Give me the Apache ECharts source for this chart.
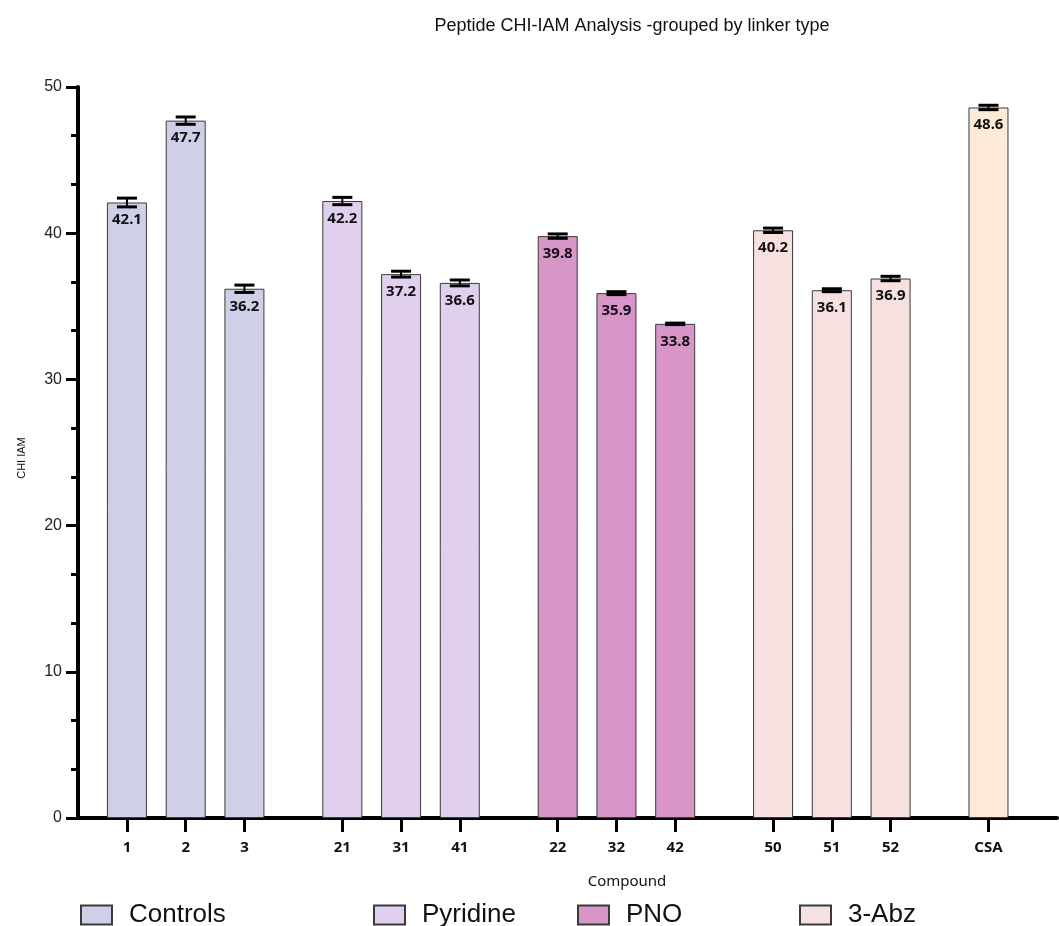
<!DOCTYPE html>
<html>
<head>
<meta charset="utf-8">
<script src="https://cdn.jsdelivr.net/npm/echarts@6/dist/echarts.min.js"></script>
<style>html,body{margin:0;padding:0;background:#fff;}#c{width:1059px;height:926px;}</style>
</head>
<body>
<div id="c"></div>
<script>
// ---- data ----
const compounds = ['1','2','3','21','31','41','22','32','42','50','51','52','CSA'];
const chiIam    = [42.1, 47.7, 36.2, 42.2, 37.2, 36.6, 39.8, 35.9, 33.8, 40.2, 36.1, 36.9, 48.6];
const errSem    = [0.30, 0.25, 0.25, 0.25, 0.20, 0.20, 0.15, 0.10, 0.05, 0.15, 0.10, 0.15, 0.15];
const linker    = ['Controls','Controls','Controls','Pyridine','Pyridine','Pyridine','PNO','PNO','PNO','3-Abz','3-Abz','3-Abz','CSA'];
const groups    = ['Controls','Pyridine','PNO','3-Abz','CSA'];
const legendGroups = ['Controls','Pyridine','PNO','3-Abz'];
const yTicks    = [0, 10, 20, 30, 40, 50];

// ---- styling ----
const colors = {'Controls':'#cfd0e8','Pyridine':'#e1cfee','PNO':'#d895c8','3-Abz':'#f7e0e0','CSA':'#fdebd8'};
const legendLeft = {'Controls':80,'Pyridine':373,'PNO':577,'3-Abz':799};

// category slot layout (gaps between linker groups)
const nSlots = 50;
const slotOf = [];
let s = 2;
for (let i = 0; i < compounds.length; i++) {
  if (i > 0) s += (linker[i] === linker[i-1]) ? 3 : 5;
  slotOf.push(s);
}
const slotLabels = new Array(nSlots).fill('');
slotOf.forEach((sl, i) => { slotLabels[sl] = compounds[i]; });
const tickSet = new Set(slotOf);

const barSeries = groups.map(g => {
  const arr = new Array(nSlots).fill(null);
  compounds.forEach((c, i) => { if (linker[i] === g) arr[slotOf[i]] = chiIam[i]; });
  return {
    name: g, type: 'bar', data: arr, barWidth: 40, barGap: '-100%',
    itemStyle: {color: colors[g], borderColor: '#3a3a3a', borderWidth: 1},
    label: {show: true, position: 'insideTop', distance: 10,
      formatter: p => p.value == null ? '' : Number(p.value).toFixed(1),
      fontFamily: 'Noto Sans', fontWeight: 'bold', fontSize: 15, color: '#111'},
    emphasis: {disabled: true}, z: 2
  };
});

const errData = compounds.map((c, i) => [slotOf[i], chiIam[i], errSem[i]]);
const errSeries = {
  type: 'custom', name: 'err', z: 5, silent: true,
  data: errData,
  encode: {x: 0, y: 1},
  renderItem: function(params, api) {
    const x = api.value(0), v = api.value(1), e = api.value(2);
    const hi = api.coord([x, v + e]);
    const lo = api.coord([x, v - e]);
    const hw = 10;
    const st = {stroke: '#000', lineWidth: 3};
    return {type: 'group', children: [
      {type: 'line', shape: {x1: hi[0], y1: hi[1], x2: lo[0], y2: lo[1]}, style: {stroke: '#000', lineWidth: 2}},
      {type: 'line', shape: {x1: hi[0]-hw, y1: hi[1], x2: hi[0]+hw, y2: hi[1]}, style: st},
      {type: 'line', shape: {x1: lo[0]-hw, y1: lo[1], x2: lo[0]+hw, y2: lo[1]}, style: st}
    ]};
  }
};

const legends = legendGroups.map(g => ({
  data: [g], left: legendLeft[g], top: 902, padding: 0,
  itemWidth: 31, itemHeight: 19, icon: 'rect', selectedMode: false,
  textStyle: {fontFamily: 'Liberation Sans', fontSize: 26, color: '#111', padding: [0,0,0,12]}
}));

const chart = echarts.init(document.getElementById('c'), null, {renderer: 'canvas'});
chart.setOption({
  animation: false,
  backgroundColor: '#fff',
  title: {text: 'Peptide CHI-IAM Analysis -grouped by linker type', left: 627, top: 12, textAlign: 'center',
    textStyle: {fontFamily: 'Liberation Sans', fontWeight: 'normal', fontSize: 18, color: '#111'}},
  legend: legends,
  grid: {left: 78, right: 2, top: 87, bottom: 108, containLabel: false},
  xAxis: {
    type: 'category', data: slotLabels, boundaryGap: true,
    axisLine: {lineStyle: {color: '#000', width: 4}},
    axisTick: {show: true, length: 14, alignWithLabel: true, lineStyle: {color: '#000', width: 3},
      interval: (idx) => tickSet.has(idx)},
    axisLabel: {interval: (idx) => tickSet.has(idx), margin: 22,
      fontFamily: 'Noto Sans', fontWeight: 'bold', fontSize: 15, color: '#111'},
    splitLine: {show: false}
  },
  yAxis: {
    type: 'value', min: yTicks[0], max: yTicks[yTicks.length-1], interval: 10,
    axisLine: {show: true, lineStyle: {color: '#000', width: 4}},
    axisTick: {show: true, length: 12, lineStyle: {color: '#000', width: 3}},
    minorTick: {show: true, splitNumber: 3, length: 7, lineStyle: {color: '#000', width: 3}},
    axisLabel: {margin: 16, fontFamily: 'Liberation Sans', fontSize: 16, color: '#222'},
    splitLine: {show: false}
  },
  graphic: [
    {type: 'text', x: 22, y: 458, rotation: Math.PI/2,
      style: {text: 'CHI IAM', fontFamily: 'Liberation Sans', fontSize: 11, fill: '#111', textAlign: 'center', textVerticalAlign: 'middle'}},
    {type: 'text', x: 627, y: 882,
      style: {text: 'Compound', fontFamily: 'Noto Sans', fontSize: 15, fill: '#111', textAlign: 'center', textVerticalAlign: 'middle'}}
  ],
  series: barSeries.concat([errSeries])
});
</script>
</body>
</html>
